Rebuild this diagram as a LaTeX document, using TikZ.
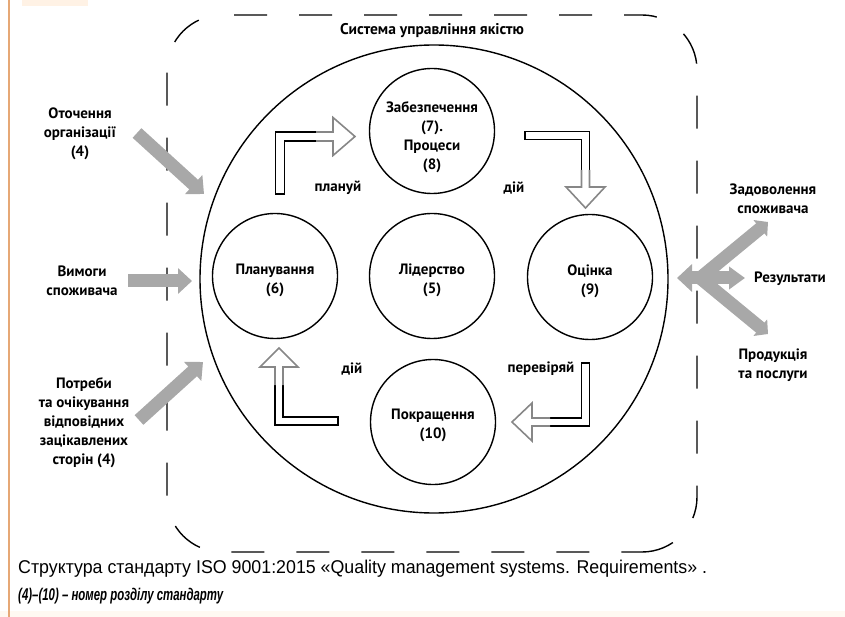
\documentclass[tikz,border=0pt]{standalone}
\usepackage{fontspec}
\usepackage{graphicx}
\setmainfont{PT Sans}
\newfontfamily\capfont{Liberation Sans}
\usetikzlibrary{arrows.meta}
\definecolor{arrgray}{RGB}{168,168,168}
\definecolor{headgray}{RGB}{135,135,135}
\definecolor{orangeline}{RGB}{230,168,118}
\begin{document}
\begin{tikzpicture}[x=1pt,y=-1pt,
  circ/.style={circle, draw, line width=1.4pt, minimum size=125pt, inner sep=0pt},
  bigcirc/.style={circle, draw, line width=1.4pt, minimum size=468pt, inner sep=0pt},
  lbl/.style={font=\fontsize{15}{19}\selectfont\bfseries, align=center, inner sep=0pt},
  ttl/.style={font=\fontsize{15.5}{18}\selectfont\bfseries, inner sep=0pt},
  garrow/.style={draw=arrgray, line width=13pt, -{Triangle[width=25pt,length=14pt]}},
  garrowsmall/.style={draw=arrgray, line width=13pt, -{Triangle[width=21pt,length=10pt]}},
  hollowblack/.style={draw=black, line width=1.6pt, line join=miter},
  hollowgray/.style={draw=headgray, line width=1.6pt, line join=miter},
  dashbox/.style={draw=black, line width=1.4pt, dash pattern=on 33pt off 32pt, rounded corners=55pt}
]
\useasboundingbox (0,0) rectangle (845,617);
% page decorations
\fill[orange!10] (22,0) rectangle (88,6);
\fill[orange!5] (0,611) rectangle (845,617);
\draw[orangeline, line width=2.5pt] (9,0) -- (9,617);

% dashed system boundary
\draw[dashbox] (234,15) -- (697,15) -- (697,552) -- (642,552);
\draw[dashbox, dash phase=41pt] (222,15) -- (167,15) -- (167,552) -- (642,552);

\node[ttl] (title) at (432,31) {Система управління якістю};

% big circle and the five inner circles
\node[bigcirc] (qms) at (434,279) {};
\node[circ] (zab) at (432,131) {};
\node[circ] (plan) at (275,276) {};
\node[circ] (lid) at (432,276) {};
\node[circ] (ots) at (590,277) {};
\node[circ] (pokr) at (433,422) {};

\node[lbl] (zabt) at (432,137) {Забезпечення\\(7).\\Процеси\\(8)};
\node[lbl] (plant) at (275,280) {Планування\\(6)};
\node[lbl] (lidt) at (432,280) {Лідерство\\(5)};
\node[lbl] (otst) at (590,281) {Оцінка\\(9)};
\node[lbl] (pokrt) at (433,425) {Покращення\\(10)};

% hollow PDCA arrows
% 1: up then right
\draw[hollowblack] (316,132) -- (275.5,132) -- (275.5,194) -- (284.5,194) -- (284.5,141) -- (316,141);
\draw[hollowgray] (316,132) -- (333,132) -- (333,117.5) -- (355,136.5) -- (333,155.5) -- (333,141) -- (316,141);
% 2: right then down
\draw[hollowblack] (581.5,170) -- (581.5,139.5) -- (525,139.5) -- (525,131.5) -- (589.5,131.5) -- (589.5,170);
\draw[hollowgray] (581.5,170) -- (581.5,187) -- (566,187) -- (585.5,208) -- (605,187) -- (589.5,187) -- (589.5,170);
% 3: down then left
\draw[hollowblack] (550,418) -- (581.5,418) -- (581.5,363) -- (589.5,363) -- (589.5,426) -- (550,426);
\draw[hollowgray] (550,418) -- (532,418) -- (532,403) -- (512,422) -- (532,441) -- (532,426) -- (550,426);
% 4: left then up
\draw[hollowblack] (283,385) -- (283,417) -- (338,417) -- (338,425) -- (275,425) -- (275,385);
\draw[hollowgray] (283,385) -- (283,367) -- (298,367) -- (279,348) -- (260,367) -- (275,367) -- (275,385);

\node[lbl] (planuy) at (338,188) {плануй};
\node[lbl] (diy1) at (514,188) {дій};
\node[lbl] (diy2) at (352,369) {дій};
\node[lbl] (perev) at (541,369) {перевіряй};

% inputs
\node[lbl] (env) at (80,134) {Оточення\\організації\\(4)};
\node[lbl] (req) at (82,281) {Вимоги\\споживача};
\node[lbl] (needs) at (84,423) {Потреби\\та очікування\\відповідних\\зацікавлених\\сторін (4)};

\coordinate (a1s) at (137,133);
\coordinate (a1e) at (204,194);
\coordinate (a2s) at (128,281);
\coordinate (a2e) at (192,281);
\coordinate (a3s) at (139,420);
\coordinate (a3e) at (203,362);
\draw[garrow] (a1s) -- (a1e);
\draw[garrow] (a2s) -- (a2e);
\draw[garrow] (a3s) -- (a3e);

% outputs
\coordinate (jl) at (677,278);
\coordinate (jr) at (745,278);
\coordinate (j) at (700,278);
\coordinate (oup) at (768,222);
\coordinate (odn) at (768,334);
\draw[garrowsmall] (j) -- (oup);
\draw[garrowsmall] (j) -- (odn);
\draw[draw=arrgray, line width=13pt, {Triangle[width=27pt,length=15pt]}-{Triangle[width=22pt,length=16pt]}] (jl) -- (jr);

\node[lbl] (sat) at (773,199) {Задоволення\\споживача};
\node[lbl, anchor=west] (res) at (754,279) {Результати};
\node[lbl] (prod) at (773,365) {Продукція\\та послуги};

% caption
\node[anchor=west, inner sep=0pt] (cap1) at (18,569) {\resizebox{689pt}{\height}{\capfont\fontsize{18.5}{18.5}\selectfont Структура стандарту ISO 9001:2015 «Quality management systems. Requirements» .}};
\node[anchor=west, inner sep=0pt] (cap2) at (18,596) {\resizebox{205pt}{\height}{\capfont\fontsize{17}{17}\selectfont\bfseries\itshape (4)–(10) – номер розділу стандарту}};
\end{tikzpicture}
\end{document}
